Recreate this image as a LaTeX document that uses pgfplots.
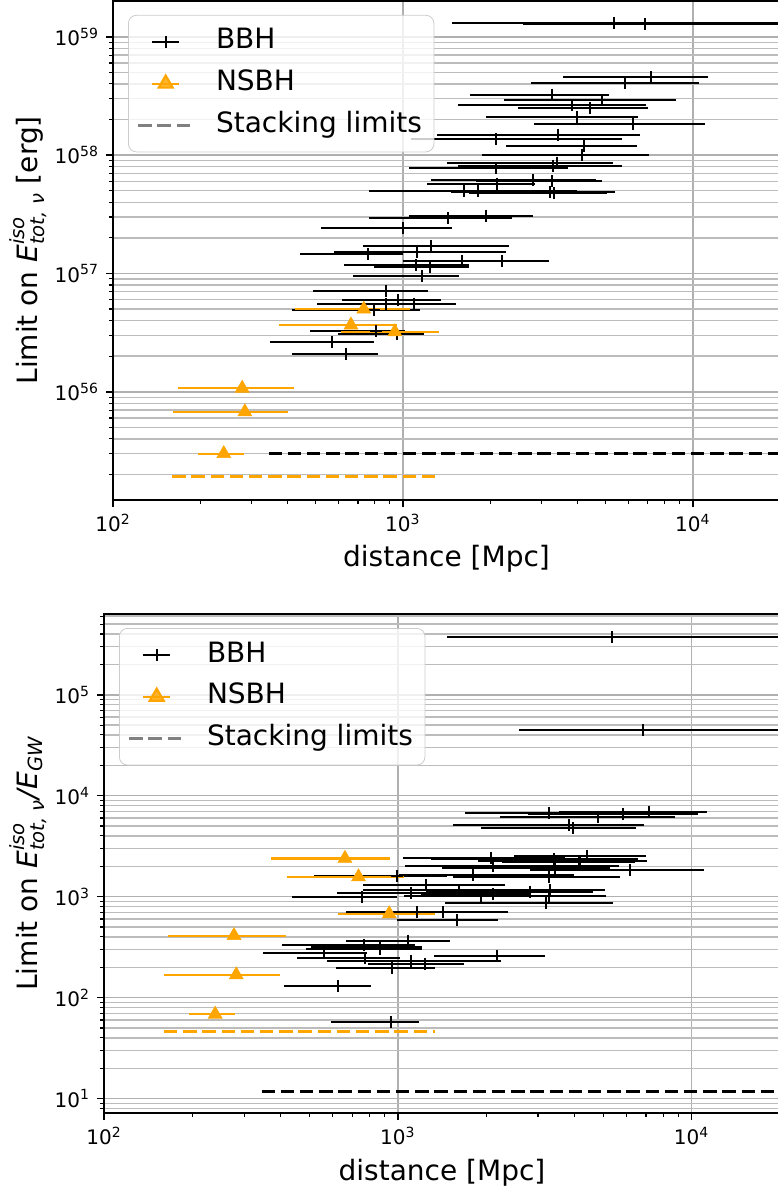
\documentclass[border=0pt]{standalone}
\usepackage{fontspec}
\setmainfont{DejaVu Sans}
\usepackage{amsmath}
\usepackage{pgfplots}
\usepackage{pgfplotstable}
\pgfplotsset{compat=1.18}

\definecolor{mplorange}{RGB}{255,165,0}
\definecolor{gridgray}{RGB}{176,176,176}
\definecolor{legframe}{RGB}{204,204,204}

% distance d [Mpc], value e, lower and upper end of the distance interval
\pgfplotstableread{
d     e        lo    hi
5350  1.31e59  1480  25000
6820  1.28e59  2590  25000
7160  4.53e58  3560  11300
5860  4.06e58  2770  10500
3270  3.25e58  1700  5150
4850  2.93e58  2230  8770
3840  2.66e58  1550  6920
4430  2.48e58  2490  6990
3980  2.11e58  1930  6470
6210  1.83e58  2830  11000
3420  1.49e58  1310  6570
2100  1.37e58  1070  5700
4230  1.20e58  2260  6430
4150  1.01e58  1880  7060
3400  8.65e57  1420  5300
3290  8.16e57  1550  5700
2090  7.76e57  1050  3710
2800  6.18e57  1250  4620
3270  6.02e57  1790  4850
2110  5.75e57  1210  2850
1620  4.99e57  766   3560
1820  4.96e57  1020  3980
3210  4.87e57  1460  5400
3320  4.77e57  1690  5070
1930  3.03e57  1050  2820
1430  2.93e57  763   2370
997   2.40e57  522   1480
1250  1.69e57  726   2330
1120  1.52e57  578   2260
760   1.45e57  441   1000
1600  1.28e57  1000  2360
2200  1.28e57  1390  3180
1110  1.18e57  625   1690
1240  1.14e57  798   1690
1160  9.55e56  671   1560
877   7.17e56  489   1220
960   5.94e56  615   1350
871   5.57e56  507   1520
1090  5.50e56  620   1500
792   4.90e56  415   1150
805   3.25e56  478   1020
952   3.05e56  596   1180
571   2.66e56  349   793
637   2.10e56  414   819
}\bbhtop

\pgfplotstableread{
d    e        lo   hi
733  4.99e56  425  1056
662  3.66e56  373  951
938  3.21e56  612  1337
279  1.07e56  167  421
285  6.76e55  161  402
241  3.00e55  196  282
}\nsbhtop

\pgfplotstableread{
d     e       lo    hi
5350  3.70e5  1470  25000
6820  4.47e4  2580  25000
7140  6950    3540  11300
3260  6790    1690  5140
5850  6590    2770  10500
4810  6200    2220  8770
3830  5090    1540  6900
3960  4750    1920  6460
4420  2550    2480  6980
2080  2430    1045  3700
3400  2360    1300  6560
4140  2270    1870  7050
4170  2220    2260  6410
2110  2030    1060  5660
3430  1940    1410  5280
6190  1840    2820  11000
1810  1640    1010  3990
990   1600    518   1470
3270  1560    1540  5700
1250  1310    762   2320
1610  1160    760   3540
3290  1160    1680  5060
2820  1120    1250  4600
1110  1080    620   1680
2110  1060    1200  2840
1920  1020    1050  2810
3260  1010    1780  5100
755   986     437   993
3200  873     1450  5400
1160  711     751   2380
1420  700     668   1550
1590  588     993   2200
1080  367     668   1510
768   333     404   1140
873   316     505   1210
867   301     486   1210
562   275     347   783
2180  261     1330  3170
776   249     455   1020
1110  232     573   2250
1240  214     791   1680
957   195     614   1340
628   129     409   811
950   57      591   1180
}\bbhbot

\pgfplotstableread{
d    e     lo   hi
661  2390  369  944
735  1570  421  1050
935  675   624  1340
277  411   165  417
282  168   160  397
239  68.5  194  279
}\nsbhbot

\pgfplotsset{
  shortleg/.style={legend image code/.code={
      \draw[##1, mark=none] (7pt,0pt) -- (20.5pt,0pt);
      \path[##1] plot coordinates {(13.75pt,0pt)};}},
  longleg/.style={legend image code/.code={
      \draw[##1] (0pt,0pt) -- (27.5pt,0pt);}},
}

\begin{document}
\begin{tikzpicture}
\begin{axis}[
  at={(56.5pt,-0.5pt)}, anchor=north west,
  scale only axis, width=333.5pt, height=249.5pt,
  xmode=log, ymode=log,
  xmin=100, xmax=2e4,
  ymin=1.22e55, ymax=2.01e59,
  axis line style={line width=0.8pt},
  tick align=outside, tick pos=left,
  major tick length=3.5pt, minor tick length=2pt,
  every tick/.style={black, line width=0.8pt},
  every minor tick/.style={black, line width=0.6pt},
  xmajorgrids, ymajorgrids, yminorgrids,
  major grid style={gridgray, line width=0.8pt},
  minor grid style={gridgray!85, line width=0.7pt},
  tick label style={font=\fontsize{10}{12}\selectfont},
  label style={font=\fontsize{14}{17}\selectfont},
  xticklabel={10\textsuperscript{\pgfmathparse{int(round(\tick/ln(10)))}\pgfmathresult}},
  yticklabel={10\textsuperscript{\pgfmathparse{int(round(\tick/ln(10)))}\pgfmathresult}},
  xlabel={distance [Mpc]},
  ylabel={Limit on $\textit{E}^{\textit{iso}}_{\textit{tot, ν}}$ [erg]},
  ylabel shift=-3pt,
  legend cell align=left,
  legend style={at={(0,1)}, anchor=north west, xshift=7.5pt, yshift=-7pt,
    draw=legframe, rounded corners=4pt, fill=white, fill opacity=0.8,
    text opacity=1, draw opacity=1,
    font=\fontsize{14}{17}\selectfont,
    inner xsep=4pt, inner ysep=4.3pt, row sep=2.85pt, column sep=8.5pt,
    nodes={inner sep=2pt, text height=10.5pt, text depth=3.5pt}},
]
\addlegendimage{shortleg, black, line width=1pt, mark=+, mark size=3pt, mark options={line width=1pt}}
\addlegendentry{BBH}
\addlegendimage{shortleg, mplorange, line width=1.1pt, mark=triangle*, mark size=4pt, mark options={fill=mplorange}}
\addlegendentry{NSBH}
\addlegendimage{longleg, gray, line width=1.8pt, dash pattern=on 6.7pt off 2.9pt}
\addlegendentry{Stacking limits}

\addplot[black, only marks, mark=+, mark size=3pt, mark options={line width=1pt}, forget plot,
  error bars/.cd, x dir=both, x explicit, error mark=none,
  error bar style={line width=1pt, black}]
  table[x=d, y=e, x error plus expr=\thisrow{hi}-\thisrow{d},
  x error minus expr=\thisrow{d}-\thisrow{lo}] {\bbhtop};
\addplot[mplorange, only marks, mark=triangle*, mark size=4pt,
  mark options={fill=mplorange, draw=mplorange, line width=0.3pt}, forget plot,
  error bars/.cd, x dir=both, x explicit, error mark=none,
  error bar style={line width=1.1pt, mplorange}]
  table[x=d, y=e, x error plus expr=\thisrow{hi}-\thisrow{d},
  x error minus expr=\thisrow{d}-\thisrow{lo}] {\nsbhtop};
\addplot[black, line width=1.8pt, dash pattern=on 6.7pt off 2.9pt, forget plot]
  coordinates {(344,3.0e55) (25000,3.0e55)};
\addplot[mplorange, line width=1.8pt, dash pattern=on 6.7pt off 2.9pt, forget plot]
  coordinates {(160,1.92e55) (1340,1.92e55)};
\end{axis}

\begin{axis}[
  at={(52pt,-307pt)}, anchor=north west,
  scale only axis, width=338pt, height=249.5pt,
  xmode=log, ymode=log,
  xmin=100, xmax=2e4,
  ymin=7.2, ymax=6.3e5,
  axis line style={line width=0.8pt},
  tick align=outside, tick pos=left,
  major tick length=3.5pt, minor tick length=2pt,
  every tick/.style={black, line width=0.8pt},
  every minor tick/.style={black, line width=0.6pt},
  xmajorgrids, ymajorgrids, yminorgrids,
  major grid style={gridgray, line width=0.8pt},
  minor grid style={gridgray!85, line width=0.7pt},
  tick label style={font=\fontsize{10}{12}\selectfont},
  label style={font=\fontsize{14}{17}\selectfont},
  xticklabel={10\textsuperscript{\pgfmathparse{int(round(\tick/ln(10)))}\pgfmathresult}},
  yticklabel={10\textsuperscript{\pgfmathparse{int(round(\tick/ln(10)))}\pgfmathresult}},
  xlabel={distance [Mpc]},
  ylabel={Limit on $\textit{E}^{\textit{iso}}_{\textit{tot, ν}}\textit{/E}_{\textit{GW}}$},
  ylabel shift=-3pt,
  legend cell align=left,
  legend style={at={(0,1)}, anchor=north west, xshift=7.5pt, yshift=-7pt,
    draw=legframe, rounded corners=4pt, fill=white, fill opacity=0.8,
    text opacity=1, draw opacity=1,
    font=\fontsize{14}{17}\selectfont,
    inner xsep=4pt, inner ysep=4.3pt, row sep=2.85pt, column sep=8.5pt,
    nodes={inner sep=2pt, text height=10.5pt, text depth=3.5pt}},
]
\addlegendimage{shortleg, black, line width=1pt, mark=+, mark size=3pt, mark options={line width=1pt}}
\addlegendentry{BBH}
\addlegendimage{shortleg, mplorange, line width=1.1pt, mark=triangle*, mark size=4pt, mark options={fill=mplorange}}
\addlegendentry{NSBH}
\addlegendimage{longleg, gray, line width=1.8pt, dash pattern=on 6.7pt off 2.9pt}
\addlegendentry{Stacking limits}

\addplot[black, only marks, mark=+, mark size=3pt, mark options={line width=1pt}, forget plot,
  error bars/.cd, x dir=both, x explicit, error mark=none,
  error bar style={line width=1pt, black}]
  table[x=d, y=e, x error plus expr=\thisrow{hi}-\thisrow{d},
  x error minus expr=\thisrow{d}-\thisrow{lo}] {\bbhbot};
\addplot[mplorange, only marks, mark=triangle*, mark size=4pt,
  mark options={fill=mplorange, draw=mplorange, line width=0.3pt}, forget plot,
  error bars/.cd, x dir=both, x explicit, error mark=none,
  error bar style={line width=1.1pt, mplorange}]
  table[x=d, y=e, x error plus expr=\thisrow{hi}-\thisrow{d},
  x error minus expr=\thisrow{d}-\thisrow{lo}] {\nsbhbot};
\addplot[black, line width=1.8pt, dash pattern=on 6.7pt off 2.9pt, forget plot]
  coordinates {(344,11.8) (25000,11.8)};
\addplot[mplorange, line width=1.8pt, dash pattern=on 6.7pt off 2.9pt, forget plot]
  coordinates {(160,46) (1340,46)};
\end{axis}
\pgfresetboundingbox
\path (0,0) rectangle (388.5pt,-593.5pt);
\end{tikzpicture}
\end{document}
